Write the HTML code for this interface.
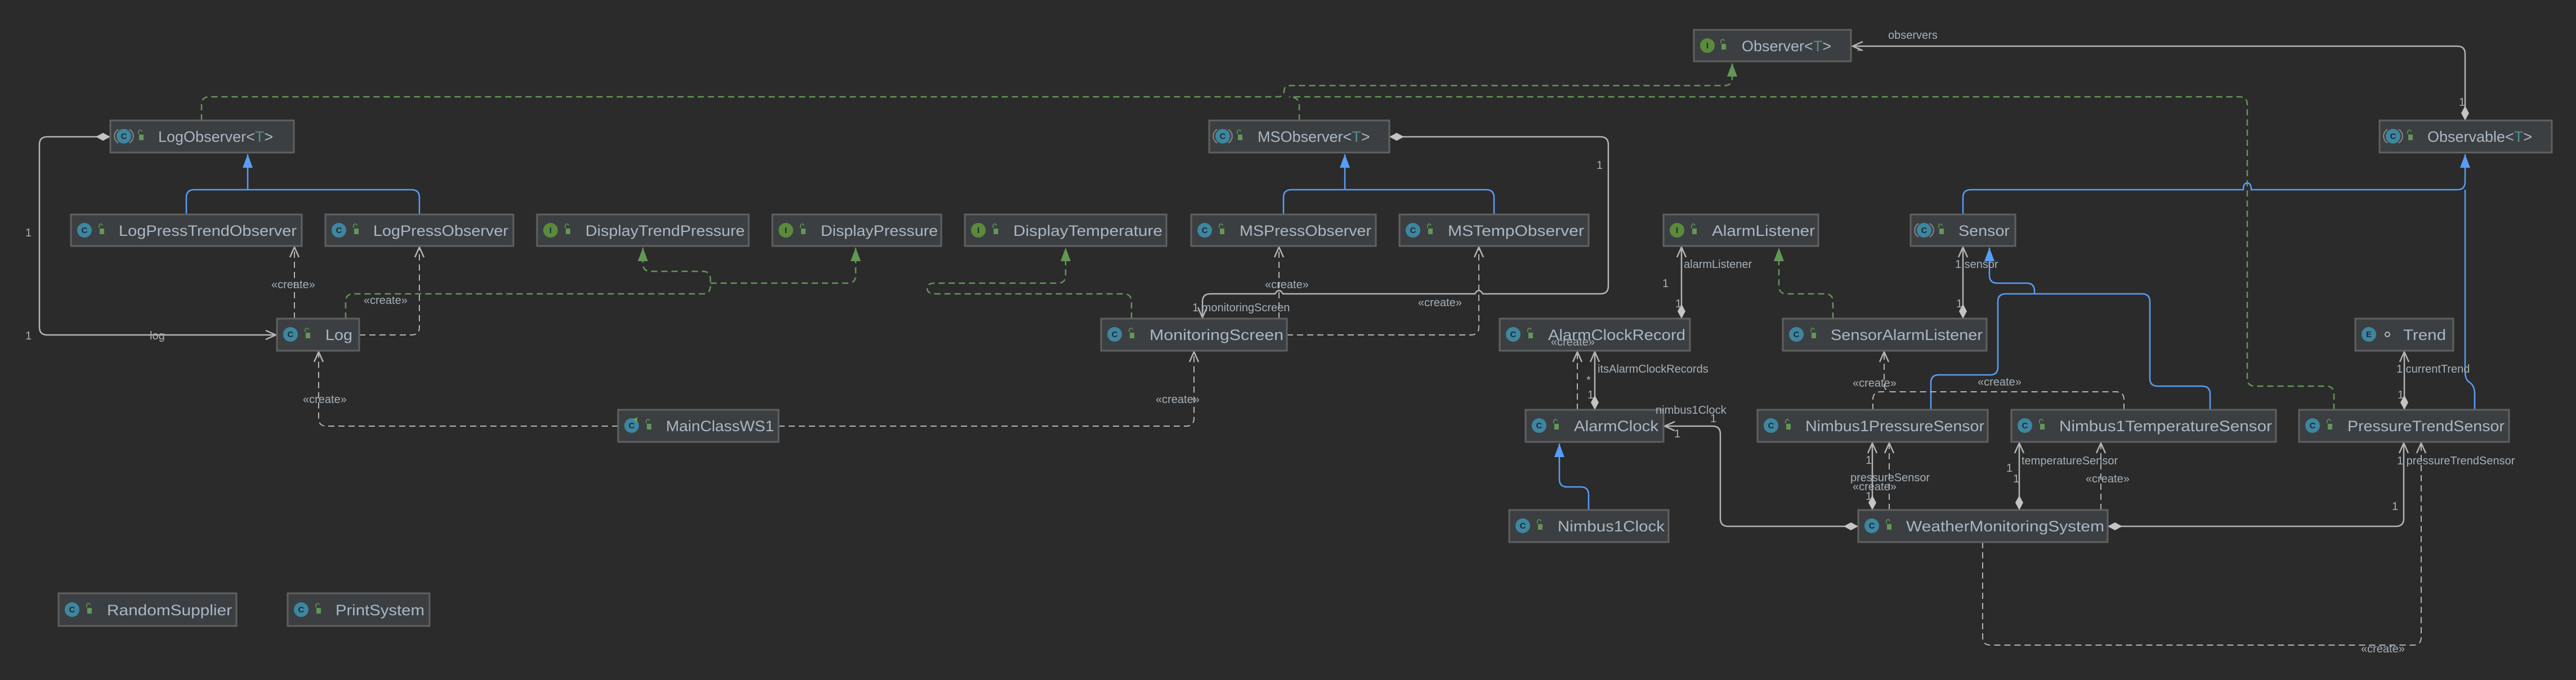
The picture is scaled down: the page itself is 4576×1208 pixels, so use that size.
<!DOCTYPE html>
<html><head><meta charset="utf-8"><style>
html,body{margin:0;padding:0;background:#2b2b2b;}
svg{display:block;}
.n rect.b{fill:#3c3f41;stroke:#606060;stroke-width:3;}
.nm{font-family:"Liberation Sans",sans-serif;font-size:27px;fill:#a9b7c6;}
.lb{font-family:"Liberation Sans",sans-serif;font-size:20px;fill:#a4b0ba;}
.ic{font-family:"Liberation Sans",sans-serif;font-size:15px;font-weight:bold;fill:#1e2a30;text-anchor:middle;}
.as{fill:none;stroke:#b4b4b4;stroke-width:2.5;}
.dp{fill:none;stroke:#b4b4b4;stroke-width:2;stroke-dasharray:11,7;}
.ge{fill:none;stroke:#589df6;stroke-width:2.5;}
.re{fill:none;stroke:#629755;stroke-width:2.5;stroke-dasharray:11,7;}
</style></head><body>
<svg width="4576" height="1208" viewBox="0 0 4576 1208" xmlns="http://www.w3.org/2000/svg">
<defs>
<marker id="oa" markerWidth="24" markerHeight="24" refX="20" refY="12" orient="auto" markerUnits="userSpaceOnUse"><path d="M2,4 L20,12 L2,20" fill="none" stroke="#b4b4b4" stroke-width="2.5"/></marker>
<marker id="dm" markerWidth="30" markerHeight="20" refX="1" refY="10" orient="auto" markerUnits="userSpaceOnUse"><path d="M1,10 L14,3 L27,10 L14,17 Z" fill="#c4c4c4"/></marker>
<marker id="bt" markerWidth="30" markerHeight="24" refX="26" refY="12" orient="auto" markerUnits="userSpaceOnUse"><path d="M2,3 L26,12 L2,21 Z" fill="#589df6"/></marker>
<marker id="gt" markerWidth="30" markerHeight="24" refX="26" refY="12" orient="auto" markerUnits="userSpaceOnUse"><path d="M2,3 L26,12 L2,21 Z" fill="#629755"/></marker>
<g id="lk"><path d="M-4,-4 v-4 a3,3 0 0 1 6,0" fill="none" stroke="#629755" stroke-width="1.5"/><rect x="-3" y="-3" width="8" height="10" fill="#629755"/></g>
<g id="ci"><ellipse cx="0" cy="0" rx="13" ry="13" fill="#3e86a0"/><text class="ic" x="0" y="5">C</text></g>
<g id="ai"><ellipse cx="0" cy="0" rx="13" ry="13" fill="#3e86a0"/><path d="M-10,-12 a14,14 0 0 0 0,24 M10,-12 a14,14 0 0 1 0,24" fill="none" stroke="#888" stroke-width="2"/><text class="ic" x="0" y="5">C</text></g>
<g id="ii"><ellipse cx="0" cy="0" rx="13" ry="13" fill="#5b8a3c"/><text class="ic" x="0" y="5">I</text></g>
<g id="ei"><ellipse cx="0" cy="0" rx="13" ry="13" fill="#3e86a0"/><text class="ic" x="0" y="5">E</text></g>
</defs>

<!-- realizations -->
<path class="re" d="M358,214 V186 Q358,172 372,172 H2270 Q2281,172 2281,162 Q2281,152 2292,152 H3063 Q3077,152 3077,138 V112" marker-end="url(#gt)"/>
<path class="re" d="M2308,214 V186 Q2308,176 2296,172"/>
<path class="re" d="M4146,728 V700 Q4146,686 4132,686 H4006 Q3992,686 3992,672 V186 Q3992,172 3978,172 H2290"/>
<path class="re" d="M614,566 V536 Q614,522 628,522 H1248 Q1262,522 1262,508 V496 Q1262,482 1248,482 H1156 Q1142,482 1142,468 V440" marker-end="url(#gt)"/>
<path class="re" d="M1262,503 H1506 Q1520,503 1520,489 V440" marker-end="url(#gt)"/>
<path class="re" d="M2010,566 V536 Q2010,522 1996,522 H1661 Q1647,522 1647,512 Q1647,503 1661,503 H1879 Q1893,503 1893,489 V440" marker-end="url(#gt)"/>
<path class="re" d="M3256,566 V536 Q3256,522 3242,522 H3174 Q3160,522 3160,508 V440" marker-end="url(#gt)"/>

<!-- generalizations -->
<path class="ge" d="M331,381 V351 Q331,337 345,337 H731 Q745,337 745,351 V381"/>
<path class="ge" d="M440,337 V274" marker-end="url(#bt)"/>
<path class="ge" d="M2280,381 V351 Q2280,337 2294,337 H2640 Q2654,337 2654,351 V381"/>
<path class="ge" d="M2389,337 V274" marker-end="url(#bt)"/>
<path class="ge" d="M3487,381 V351 Q3487,337 3501,337 H3985 Q3985,325 3992,325 Q3999,325 3999,337 H4365 Q4379,337 4379,323 V274" marker-end="url(#bt)"/>
<path class="ge" d="M4396,728 V700 Q4396,686 4388,680 Q4379,675 4379,660 V337"/>
<path class="ge" d="M3430,728 V680 Q3430,666 3444,666 H3535 Q3549,666 3549,652 V536 Q3549,522 3563,522 H3805 Q3819,522 3819,536 V672 Q3819,686 3833,686 H3912 Q3926,686 3926,700 V728"/>
<path class="ge" d="M3614,522 V517 Q3614,503 3600,503 H3548 Q3534,503 3534,489 V440" marker-end="url(#bt)"/>
<path class="ge" d="M2822,906 V879 Q2822,865 2808,865 H2784 Q2770,865 2770,851 V788" marker-end="url(#bt)"/>

<!-- associations -->
<path class="as" d="M4379,214 V96 Q4379,82 4365,82 H3291" marker-start="url(#dm)" marker-end="url(#oa)"/>
<path class="as" d="M196,243 H84 Q70,243 70,257 V581 Q70,595 84,595 H490" marker-start="url(#dm)" marker-end="url(#oa)"/>
<path class="as" d="M2468,243 H2843 Q2857,243 2857,257 V508 Q2857,522 2843,522 H2634 Q2627,510 2620,522 H2279 Q2272,510 2265,522 H2150 Q2136,522 2136,536 V564" marker-start="url(#dm)" marker-end="url(#oa)"/>
<path class="as" d="M2987,566 V439" marker-start="url(#dm)" marker-end="url(#oa)"/>
<path class="as" d="M2833,728 V625" marker-start="url(#dm)" marker-end="url(#oa)"/>
<path class="as" d="M3301,935 H3070 Q3056,935 3056,921 V771 Q3056,757 3042,757 H2957" marker-start="url(#dm)" marker-end="url(#oa)"/>
<path class="as" d="M3487,566 V439" marker-start="url(#dm)" marker-end="url(#oa)"/>
<path class="as" d="M4271,728 V625" marker-start="url(#dm)" marker-end="url(#oa)"/>
<path class="as" d="M3326,906 V787" marker-start="url(#dm)" marker-end="url(#oa)"/>
<path class="as" d="M3587,906 V787" marker-start="url(#dm)" marker-end="url(#oa)"/>
<path class="as" d="M3744,935 H4256 Q4270,935 4270,921 V787" marker-start="url(#dm)" marker-end="url(#oa)"/>

<!-- dependencies -->
<path class="dp" d="M523,566 V439" marker-end="url(#oa)"/>
<path class="dp" d="M638,595 H731 Q745,595 745,581 V439" marker-end="url(#oa)"/>
<path class="dp" d="M1098,757 H580 Q566,757 566,743 V625" marker-end="url(#oa)"/>
<path class="dp" d="M1383,757 H2107 Q2121,757 2121,743 V625" marker-end="url(#oa)"/>
<path class="dp" d="M2272,566 V439" marker-end="url(#oa)"/>
<path class="dp" d="M2286,595 H2613 Q2627,595 2627,581 V439" marker-end="url(#oa)"/>
<path class="dp" d="M2802,728 V625" marker-end="url(#oa)"/>
<path class="dp" d="M3327,728 V710 Q3327,696 3341,696 H3347"/>
<path class="dp" d="M3773,728 V710 Q3773,696 3759,696 H3361 Q3347,696 3347,682 V625" marker-end="url(#oa)"/>
<path class="dp" d="M3356,906 V787" marker-end="url(#oa)"/>
<path class="dp" d="M3732,906 V787" marker-end="url(#oa)"/>
<path class="dp" d="M3522,963 V1132 Q3522,1146 3536,1146 H4287 Q4301,1146 4301,1132 V787" marker-end="url(#oa)"/>

<!-- nodes -->
<g class="n">
<rect class="b" x="3009" y="53" width="279" height="56"/><use href="#ii" x="3033" y="81"/><use href="#lk" x="3061" y="81"/><text class="nm" x="3094" y="91">Observer&lt;<tspan fill="#4e8f8f">T</tspan>&gt;</text>
<rect class="b" x="196" y="214" width="326" height="57"/><use href="#ai" x="220" y="242"/><use href="#lk" x="250" y="242"/><text class="nm" x="281" y="252">LogObserver&lt;<tspan fill="#4e8f8f">T</tspan>&gt;</text>
<rect class="b" x="2148" y="214" width="320" height="57"/><use href="#ai" x="2172" y="242"/><use href="#lk" x="2202" y="242"/><text class="nm" x="2234" y="252">MSObserver&lt;<tspan fill="#4e8f8f">T</tspan>&gt;</text>
<rect class="b" x="4227" y="214" width="306" height="57"/><use href="#ai" x="4251" y="242"/><use href="#lk" x="4281" y="242"/><text class="nm" x="4312" y="252">Observable&lt;<tspan fill="#4e8f8f">T</tspan>&gt;</text>

<rect class="b" x="126" y="381" width="410" height="56"/><use href="#ci" x="150" y="409"/><use href="#lk" x="180" y="409"/><text class="nm" x="211" y="419" textLength="316" lengthAdjust="spacingAndGlyphs">LogPressTrendObserver</text>
<rect class="b" x="578" y="381" width="334" height="56"/><use href="#ci" x="602" y="409"/><use href="#lk" x="632" y="409"/><text class="nm" x="663" y="419" textLength="240" lengthAdjust="spacingAndGlyphs">LogPressObserver</text>
<rect class="b" x="954" y="381" width="376" height="56"/><use href="#ii" x="978" y="409"/><use href="#lk" x="1008" y="409"/><text class="nm" x="1040" y="419" textLength="283" lengthAdjust="spacingAndGlyphs">DisplayTrendPressure</text>
<rect class="b" x="1372" y="381" width="300" height="56"/><use href="#ii" x="1396" y="409"/><use href="#lk" x="1426" y="409"/><text class="nm" x="1458" y="419" textLength="208" lengthAdjust="spacingAndGlyphs">DisplayPressure</text>
<rect class="b" x="1714" y="381" width="358" height="56"/><use href="#ii" x="1738" y="409"/><use href="#lk" x="1768" y="409"/><text class="nm" x="1800" y="419" textLength="265" lengthAdjust="spacingAndGlyphs">DisplayTemperature</text>
<rect class="b" x="2116" y="381" width="328" height="56"/><use href="#ci" x="2140" y="409"/><use href="#lk" x="2170" y="409"/><text class="nm" x="2202" y="419" textLength="234" lengthAdjust="spacingAndGlyphs">MSPressObserver</text>
<rect class="b" x="2486" y="381" width="336" height="56"/><use href="#ci" x="2510" y="409"/><use href="#lk" x="2540" y="409"/><text class="nm" x="2572" y="419" textLength="242" lengthAdjust="spacingAndGlyphs">MSTempObserver</text>
<rect class="b" x="2955" y="381" width="275" height="56"/><use href="#ii" x="2979" y="409"/><use href="#lk" x="3009" y="409"/><text class="nm" x="3041" y="419" textLength="183" lengthAdjust="spacingAndGlyphs">AlarmListener</text>
<rect class="b" x="3394" y="381" width="186" height="56"/><use href="#ai" x="3418" y="409"/><use href="#lk" x="3448" y="409"/><text class="nm" x="3479" y="419" textLength="91" lengthAdjust="spacingAndGlyphs">Sensor</text>

<rect class="b" x="492" y="566" width="146" height="57"/><use href="#ci" x="516" y="594"/><use href="#lk" x="546" y="594"/><text class="nm" x="578" y="604" textLength="48" lengthAdjust="spacingAndGlyphs">Log</text>
<rect class="b" x="1956" y="566" width="330" height="57"/><use href="#ci" x="1980" y="594"/><use href="#lk" x="2010" y="594"/><text class="nm" x="2042" y="604" textLength="238" lengthAdjust="spacingAndGlyphs">MonitoringScreen</text>
<rect class="b" x="2664" y="566" width="338" height="57"/><use href="#ci" x="2688" y="594"/><use href="#lk" x="2718" y="594"/><text class="nm" x="2750" y="604" textLength="244" lengthAdjust="spacingAndGlyphs">AlarmClockRecord</text>
<rect class="b" x="3167" y="566" width="362" height="57"/><use href="#ci" x="3191" y="594"/><use href="#lk" x="3221" y="594"/><text class="nm" x="3252" y="604" textLength="270" lengthAdjust="spacingAndGlyphs">SensorAlarmListener</text>
<rect class="b" x="4184" y="566" width="174" height="57"/><use href="#ei" x="4208" y="594"/><circle cx="4241" cy="594" r="4" fill="none" stroke="#a9b7c6" stroke-width="2"/><text class="nm" x="4269" y="604" textLength="76" lengthAdjust="spacingAndGlyphs">Trend</text>

<rect class="b" x="1098" y="728" width="285" height="57"/><use href="#ci" x="1122" y="756"/><path d="M1124,745 l8,-4 v9 z" fill="#62a648"/><use href="#lk" x="1152" y="756"/><text class="nm" x="1183" y="766" textLength="192" lengthAdjust="spacingAndGlyphs">MainClassWS1</text>
<rect class="b" x="2710" y="728" width="245" height="57"/><use href="#ci" x="2734" y="756"/><use href="#lk" x="2764" y="756"/><text class="nm" x="2796" y="766" textLength="150" lengthAdjust="spacingAndGlyphs">AlarmClock</text>
<rect class="b" x="3122" y="728" width="409" height="57"/><use href="#ci" x="3146" y="756"/><use href="#lk" x="3176" y="756"/><text class="nm" x="3207" y="766" textLength="318" lengthAdjust="spacingAndGlyphs">Nimbus1PressureSensor</text>
<rect class="b" x="3573" y="728" width="470" height="57"/><use href="#ci" x="3597" y="756"/><use href="#lk" x="3627" y="756"/><text class="nm" x="3658" y="766" textLength="378" lengthAdjust="spacingAndGlyphs">Nimbus1TemperatureSensor</text>
<rect class="b" x="4084" y="728" width="373" height="57"/><use href="#ci" x="4108" y="756"/><use href="#lk" x="4138" y="756"/><text class="nm" x="4170" y="766" textLength="279" lengthAdjust="spacingAndGlyphs">PressureTrendSensor</text>

<rect class="b" x="2681" y="906" width="283" height="57"/><use href="#ci" x="2705" y="934"/><use href="#lk" x="2735" y="934"/><text class="nm" x="2767" y="944" textLength="190" lengthAdjust="spacingAndGlyphs">Nimbus1Clock</text>
<rect class="b" x="3301" y="906" width="443" height="57"/><use href="#ci" x="3325" y="934"/><use href="#lk" x="3355" y="934"/><text class="nm" x="3386" y="944" textLength="352" lengthAdjust="spacingAndGlyphs">WeatherMonitoringSystem</text>

<rect class="b" x="104" y="1054" width="316" height="58"/><use href="#ci" x="128" y="1083"/><use href="#lk" x="158" y="1083"/><text class="nm" x="190" y="1093" textLength="222" lengthAdjust="spacingAndGlyphs">RandomSupplier</text>
<rect class="b" x="511" y="1054" width="252" height="58"/><use href="#ci" x="535" y="1083"/><use href="#lk" x="565" y="1083"/><text class="nm" x="596" y="1093" textLength="158" lengthAdjust="spacingAndGlyphs">PrintSystem</text>
</g>

<!-- labels -->
<g class="lb">
<text class="lb" x="3354" y="69">observers</text>
<text class="lb" x="3298" y="98">*</text>
<text class="lb" x="4368" y="188">1</text>
<text class="lb" x="45" y="420">1</text>
<text class="lb" x="45" y="603">1</text>
<text class="lb" x="266" y="603">log</text>
<text class="lb" x="482" y="512">«create»</text>
<text class="lb" x="646" y="540">«create»</text>
<text class="lb" x="538" y="716">«create»</text>
<text class="lb" x="2247" y="512">«create»</text>
<text class="lb" x="2519" y="544">«create»</text>
<text class="lb" x="2053" y="716">«create»</text>
<text class="lb" x="2118" y="553">1 monitoringScreen</text>
<text class="lb" x="2836" y="300">1</text>
<text class="lb" x="2991" y="476">alarmListener</text>
<text class="lb" x="2953" y="510">1</text>
<text class="lb" x="2976" y="546">1</text>
<text class="lb" x="2755" y="614">«create»</text>
<text class="lb" x="2838" y="662">itsAlarmClockRecords</text>
<text class="lb" x="2818" y="682">*</text>
<text class="lb" x="2820" y="708">1</text>
<text class="lb" x="2941" y="735">nimbus1Clock</text>
<text class="lb" x="3038" y="750">1</text>
<text class="lb" x="2974" y="777">1</text>
<text class="lb" x="3473" y="476">1 sensor</text>
<text class="lb" x="3475" y="546">1</text>
<text class="lb" x="3291" y="687">«create»</text>
<text class="lb" x="3513" y="685">«create»</text>
<text class="lb" x="4257" y="662">1 currentTrend</text>
<text class="lb" x="4259" y="708">1</text>
<text class="lb" x="3314" y="824">1</text>
<text class="lb" x="3287" y="855">pressureSensor</text>
<text class="lb" x="3291" y="871">«create»</text>
<text class="lb" x="3314" y="888">1</text>
<text class="lb" x="3591" y="825">temperatureSensor</text>
<text class="lb" x="3564" y="838">1</text>
<text class="lb" x="3576" y="857">1</text>
<text class="lb" x="3705" y="857">«create»</text>
<text class="lb" x="4258" y="825">1 pressureTrendSensor</text>
<text class="lb" x="4249" y="906">1</text>
<text class="lb" x="4194" y="1159">«create»</text>
</g>
</svg>
</body></html>
